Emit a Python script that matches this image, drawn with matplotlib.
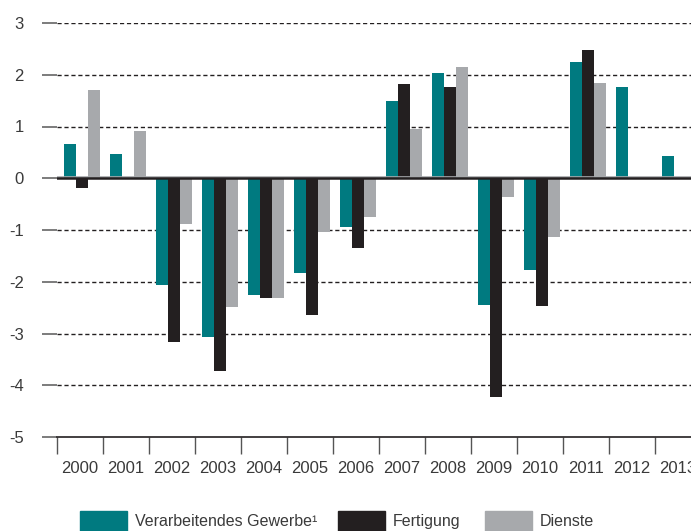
import matplotlib.pyplot as plt
import numpy as np
from matplotlib.patches import Rectangle

plt.rcParams['font.family'] = ['Liberation Sans Narrow', 'Liberation Sans', 'DejaVu Sans']

# Daten (Veränderung gegenüber Vorjahr)
years = ['2000', '2001', '2002', '2003', '2004', '2005', '2006',
         '2007', '2008', '2009', '2010', '2011', '2012', '2013']
gewerbe = [0.66, 0.46, -2.07, -3.07, -2.26, -1.84, -0.95,
           1.49, 2.03, -2.44, -1.78, 2.24, 1.76, 0.43]
fertigung = [-0.19, 0.0, -3.17, -3.73, -2.32, -2.65, -1.35,
             1.82, 1.76, -4.22, -2.46, 2.48, 0.0, 0.0]
dienste = [1.70, 0.91, -0.89, -2.48, -2.32, -1.04, -0.75,
           0.95, 2.15, -0.37, -1.14, 1.84, 0.0, 0.0]
labels = ['Verarbeitendes Gewerbe\u00b9', 'Fertigung', 'Dienste']
colors = ['#007A80', '#231F20', '#A7A9AC']

W, H = 691, 531
fig = plt.figure(figsize=(W / 100, H / 100), dpi=100)
ax = fig.add_axes([57 / W, (H - 437) / H, 644 / W, 414 / H])

x = np.arange(len(years))
w = 0.26
for i, (vals, c) in enumerate(zip([gewerbe, fertigung, dienste], colors)):
    ax.bar(x + (i - 1) * w + 0.04, vals, w, color=c, zorder=3, linewidth=0)

ax.set_xlim(-0.5, len(years) - 0.5)
ax.set_ylim(-5, 3)

# Gitterlinien
for yv in [3, 2, 1, -1, -2, -3, -4]:
    ax.axhline(yv, color='#231F20', lw=1.0, ls=(0, (3, 2)), zorder=1)
ax.axhline(0.02, color='#A7A9AC', lw=1.2, zorder=4)
ax.axhline(0, color='#231F20', lw=1.8, zorder=4)

for s in ['left', 'right', 'top']:
    ax.spines[s].set_visible(False)
ax.spines['bottom'].set_color('#231F20')
ax.spines['bottom'].set_linewidth(1.2)

ax.set_yticks(range(-5, 4))
ax.set_yticklabels([str(v) for v in range(-5, 4)])
ax.tick_params(axis='y', length=11, width=1.2, color='#666666', pad=13,
               labelsize=12, labelcolor='#3a3a3a')

ax.set_xticks(x)
ax.set_xticklabels(years)
ax.tick_params(axis='x', which='major', length=0, pad=17, labelsize=12,
               labelcolor='#3a3a3a')
ax.set_xticks(np.arange(-0.5, len(years)), minor=True)
ax.tick_params(axis='x', which='minor', length=12, width=1.0, color='#555555')

# Legende
items = [(80, labels[0]), (338, labels[1]), (485, labels[2])]
for (px, lab), c in zip(items, colors):
    fig.patches.append(Rectangle((px / W, 0), 47 / W, 20 / H, color=c,
                                 transform=fig.transFigure, figure=fig))
    fig.text((px + 55) / W, 2 / H, lab, fontsize=11.5, color='#3a3a3a',
             ha='left', va='bottom')

plt.savefig('out.png', dpi=100)
